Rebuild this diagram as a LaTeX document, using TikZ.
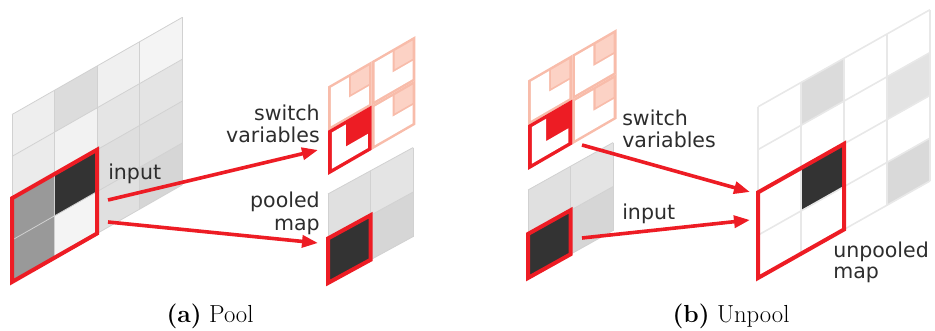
\documentclass[tikz,border=0pt]{standalone}
\usepackage{fontspec}
\newfontfamily\labelfont{DejaVu Sans}
\usetikzlibrary{arrows.meta}
\definecolor{cred}{RGB}{237,28,36}
\definecolor{cpink}{RGB}{248,188,170}
\definecolor{cpinkl}{RGB}{252,210,197}
\definecolor{ctext}{RGB}{45,45,45}
\newcommand\gcell[3]{\fill[#3] (#1,#2) -- ++(1,0) -- ++(0,1) -- ++(-1,0) -- cycle;}
% #1,#2 origin, #3 frame colour, #4 inset, #5 colour of the marked cell
\newcommand\swblock[5]{%
  \begin{scope}[shift={(#1,#2)}]
    \fill[#3] (0,0) -- (2,0) -- (2,2) -- (0,2) -- cycle;
    \fill[white] (#4,#4) -- (2-#4,#4) -- (2-#4,1-0.05) -- (1-0.05,1-0.05) -- (1-0.05,2-#4) -- (#4,2-#4) -- cycle;
    \fill[#5] (1+0.05,1+0.05) -- (2-#4,1+0.05) -- (2-#4,2-#4) -- (1+0.05,2-#4) -- cycle;
  \end{scope}}
\newcommand\swredblock[3]{%
  \begin{scope}[shift={(#1,#2)}]
    \fill[cred] (0,0) -- (2,0) -- (2,2) -- (0,2) -- cycle;
    \fill[white] (#3,#3) -- (2-#3,#3) -- (2-#3,1-#3) -- (1-#3,1-#3) -- (1-#3,2-#3) -- (#3,2-#3) -- cycle;
  \end{scope}}
\tikzset{
  lbl/.style={font=\labelfont\fontsize{15.4}{18}\selectfont, text=ctext, inner sep=0pt},
  capstyle/.style={font=\fontsize{18.5}{22}\selectfont, inner sep=0pt},
  redframe/.style={draw=cred, line width=3pt, line join=miter},
  gridline/.style={draw=black!18, line width=0.6pt},
  ugridline/.style={draw=black!9, line width=1.2pt},
  conn/.style={draw=cred, line width=2.7pt, -{Triangle[length=12pt,width=9pt]}},
}
\begin{document}
\begin{tikzpicture}[x=0.75pt,y=-0.75pt]
\useasboundingbox (0,0) rectangle (935,331);

% ===== (a) Pool: input 4x4 =====
\begin{scope}[shift={(12,282)}, x={(31.9pt,18.2pt)}, y={(0pt,31.4pt)}]
  \gcell00{black!40} \gcell10{black!4.5} \gcell20{black!12} \gcell30{black!16}
  \gcell01{black!40} \gcell11{black!80} \gcell21{black!13} \gcell31{black!12.5}
  \gcell02{black!7.8} \gcell12{black!5} \gcell22{black!10} \gcell32{black!10.5}
  \gcell03{black!6.7} \gcell13{black!13.7} \gcell23{black!5.9} \gcell33{black!4.3}
  \foreach \i in {0,...,4} {
    \draw[gridline] (\i,0) -- (\i,4);
    \draw[gridline] (0,\i) -- (4,\i);
  }
  \draw[redframe] (0,0) -- (2,0) -- (2,2) -- (0,2) -- cycle;
\end{scope}

% ===== (a) switch variables =====
\begin{scope}[shift={(328,175)}, x={(16.4pt,9.45pt)}, y={(0pt,16.6pt)}]
  \swblock{0}{2}{cpink}{0.13}{cpinkl}
  \swblock{2}{2}{cpink}{0.13}{cpinkl}
  \swblock{2}{0}{cpink}{0.13}{cpinkl}
  \swredblock{0}{0}{0.18}
\end{scope}

% ===== (a) pooled map 2x2 =====
\begin{scope}[shift={(328,283)}, x={(31.9pt,17.4pt)}, y={(0pt,33.4pt)}]
  \gcell00{black!80} \gcell10{black!16}
  \gcell01{black!12} \gcell11{black!10.5}
  \foreach \i in {0,1,2} {
    \draw[gridline] (\i,0) -- (\i,2);
    \draw[gridline] (0,\i) -- (2,\i);
  }
  \draw[redframe] (0,0) -- (1,0) -- (1,1) -- (0,1) -- cycle;
\end{scope}

% ===== (b) Unpool: switch variables =====
\begin{scope}[shift={(528,170)}, x={(16.6pt,9.6pt)}, y={(0pt,16.8pt)}]
  \swblock{0}{2}{cpink}{0.13}{cpinkl}
  \swblock{2}{2}{cpink}{0.13}{cpinkl}
  \swblock{2}{0}{cpink}{0.13}{cpinkl}
  \swredblock{0}{0}{0.18}
\end{scope}

% ===== (b) input 2x2 =====
\begin{scope}[shift={(528,278)}, x={(31.9pt,17.8pt)}, y={(0pt,33pt)}]
  \gcell00{black!80} \gcell10{black!16}
  \gcell01{black!12} \gcell11{black!10.5}
  \foreach \i in {0,1,2} {
    \draw[gridline] (\i,0) -- (\i,2);
    \draw[gridline] (0,\i) -- (2,\i);
  }
  \draw[redframe] (0,0) -- (1,0) -- (1,1) -- (0,1) -- cycle;
\end{scope}

% ===== (b) unpooled map 4x4 =====
\begin{scope}[shift={(758,278)}, x={(32.25pt,18.2pt)}, y={(0pt,32.1pt)}]
  \gcell11{black!80}
  \gcell13{black!14}
  \gcell32{black!11}
  \gcell30{black!15}
  \foreach \i in {0,...,4} {
    \draw[ugridline] (\i,0) -- (\i,4);
    \draw[ugridline] (0,\i) -- (4,\i);
  }
  \draw[redframe] (0,0) -- (2,0) -- (2,2) -- (0,2) -- cycle;
\end{scope}

% ===== connectors =====
\coordinate (aS1) at (108,200);
\coordinate (aE1) at (318,150);
\coordinate (aS2) at (108,222);
\coordinate (aE2) at (318,243);
\coordinate (bS1) at (582,145);
\coordinate (bE1) at (750,192);
\coordinate (bS2) at (582,238);
\coordinate (bE2) at (750,220);
\draw[conn] (aS1) -- (aE1);
\draw[conn] (aS2) -- (aE2);
\draw[conn] (bS1) -- (bE1);
\draw[conn] (bS2) -- (bE2);

% ===== labels =====
\node[lbl, anchor=base west] (inA) at (108,180) {input};
\node[lbl, anchor=base east] (swA1) at (320,121) {switch};
\node[lbl, anchor=base east] (swA2) at (320,143) {variables};
\node[lbl, anchor=base east] (plA1) at (320,208) {pooled};
\node[lbl, anchor=base east] (plA2) at (320,231) {map};

\node[lbl, anchor=base west] (swB1) at (622,126) {switch};
\node[lbl, anchor=base west] (swB2) at (622,148) {variables};
\node[lbl, anchor=base west] (inB) at (622,220) {input};
\node[lbl, anchor=base west] (upB1) at (833,258) {unpooled};
\node[lbl, anchor=base west] (upB2) at (833,279) {map};

\node[capstyle, anchor=base] (capA) at (210,322) {\textbf{(a)} Pool};
\node[capstyle, anchor=base] (capB) at (731,322) {\textbf{(b)} Unpool};
\end{tikzpicture}
\end{document}
